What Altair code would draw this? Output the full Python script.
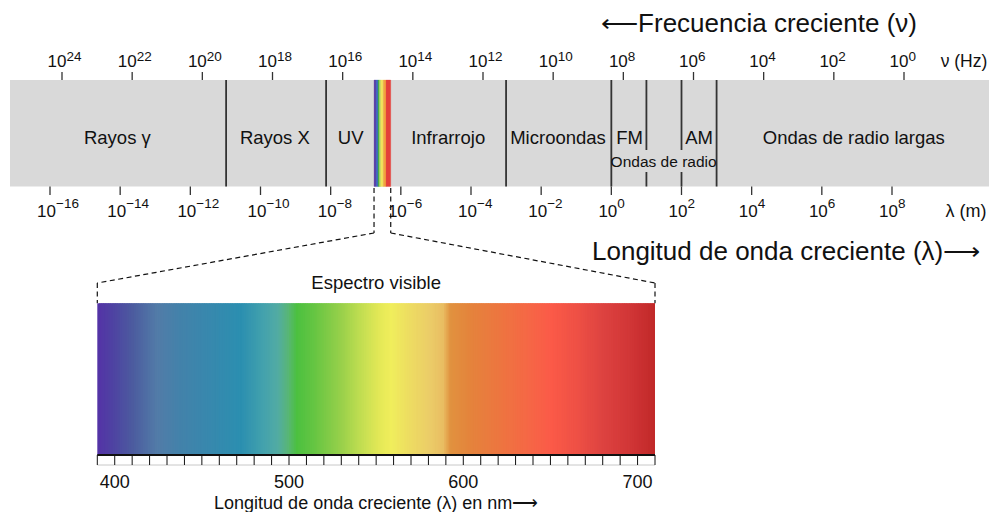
import altair as alt
import pandas as pd

FONT = "Liberation Sans"
W, H = 981, 504

# ---------------- data ----------------
freq_exponents = [24, 22, 20, 18, 16, 14, 12, 10, 8, 6, 4, 2, 0]
wave_exponents = [-16, -14, -12, -10, -8, -6, -4, -2, 0, 2, 4, 6, 8]

band_edges = [-17.14, 10.77]                 # log10(wavelength, m)
full_dividers = [-10.98, -8.13, -3.0, 0.0, 3.0]
split_dividers = [1.0, 2.0]

region_names = ["Rayos γ", "Rayos X", "UV", "Infrarrojo", "Microondas", "FM", "AM",
                "Ondas de radio largas"]
region_centers = [-14.08, -9.59, -7.43, -4.65, -1.52, 0.52, 2.50, 6.91]
radio_name = ["Ondas de radio"]
radio_center = [1.49]

strip_edges = [-6.764, -6.707, -6.650, -6.613, -6.573, -6.499, -6.422, -6.288]
strip_colors = ["#5b3ea6", "#4063c0", "#3faa48", "#a5cf50", "#f2e45c", "#f2a43e", "#e4403a"]

visible_range = [390, 710]
stop_nm = [390, 399, 410, 424, 437, 456, 472, 485, 493, 499, 504, 514, 529, 542, 552,
           558, 569, 581, 588, 592, 603, 622, 638, 650, 665, 680, 696, 710]
stop_color = ["#5433a6", "#4e44a2", "#4c5c9f", "#527ca8", "#4382aa", "#3689ae", "#2b8fb0",
              "#44a2ad", "#52aba3", "#58b676", "#4cc040", "#66c543", "#97d04a", "#c6df52",
              "#e5e957", "#f0ee5c", "#eddc62", "#ebcb68", "#e9bd62", "#e1923f", "#e4843c",
              "#ee7440", "#f66646", "#fb5a48", "#ee5045", "#dd4240", "#d03536", "#c02828"]
nm_ticks = list(range(390, 711, 10))
nm_labels = [400, 500, 600, 700]

# ---------------- scales ----------------
L_DOM, L_RNG = [-16, 8], [42, 884]
F_DOM, F_RNG = [24, 0], [54, 896]
NM_DOM, NM_RNG = [390, 710], [89.3, 647.0]


def xs(field, dom, rng):
    return alt.X(f"{field}:Q", scale=alt.Scale(domain=dom, range=rng, zero=False, nice=False),
                 axis=None)


def XL(f):
    return xs(f, L_DOM, L_RNG)


def XF(f):
    return xs(f, F_DOM, F_RNG)


def XN(f):
    return xs(f, NM_DOM, NM_RNG)


def nm_to_L(nm):
    px = NM_RNG[0] + (nm - NM_DOM[0]) * (NM_RNG[1] - NM_RNG[0]) / (NM_DOM[1] - NM_DOM[0])
    return L_DOM[0] + (px - L_RNG[0]) * (L_DOM[1] - L_DOM[0]) / (L_RNG[1] - L_RNG[0])


def sup(e):
    return str(e).replace("-", "\u2212")


V = alt.value
layers = []

# band
band = pd.DataFrame({"a": [band_edges[0]], "b": [band_edges[1]]})
layers.append(alt.Chart(band).mark_rect(color="#d9d9d9").encode(
    x=XL("a"), x2="b", y=V(72), y2=V(178.5)))

# rainbow strip
strip = pd.DataFrame({"a": strip_edges[:-1], "b": strip_edges[1:], "c": strip_colors})
layers.append(alt.Chart(strip).mark_rect(strokeWidth=0.3).encode(
    x=XL("a"), x2="b", y=V(72), y2=V(178.5),
    fill=alt.Fill("c:N", scale=None), stroke=alt.Stroke("c:N", scale=None)))

# dividers
layers.append(alt.Chart(pd.DataFrame({"v": full_dividers})).mark_rule(
    color="#333333", strokeWidth=1.8).encode(x=XL("v"), y=V(72), y2=V(178.5)))
sd = pd.DataFrame({"v": split_dividers})
layers.append(alt.Chart(sd).mark_rule(color="#333333", strokeWidth=1.8).encode(
    x=XL("v"), y=V(72), y2=V(142)))
layers.append(alt.Chart(sd).mark_rule(color="#333333", strokeWidth=1.8).encode(
    x=XL("v"), y=V(164), y2=V(178.5)))

# ticks
fq = pd.DataFrame({"e": freq_exponents, "b": ["10"] * len(freq_exponents),
                   "s": [sup(e) for e in freq_exponents]})
wv = pd.DataFrame({"e": wave_exponents, "b": ["10"] * len(wave_exponents),
                   "s": [sup(e) for e in wave_exponents]})
layers.append(alt.Chart(fq).mark_rule(color="#333333", strokeWidth=1.3).encode(
    x=XF("e"), y=V(64), y2=V(72)))
layers.append(alt.Chart(wv).mark_rule(color="#333333", strokeWidth=1.3).encode(
    x=XL("e"), y=V(178.5), y2=V(187)))

layers.append(alt.Chart(fq).mark_text(font=FONT, fontSize=17, align="right", dx=4.5,
                                      baseline="alphabetic", color="#111").encode(
    x=XF("e"), y=V(58.7), text="b:N"))
layers.append(alt.Chart(fq).mark_text(font=FONT, fontSize=13.5, align="left", dx=4.5,
                                      baseline="alphabetic", color="#111").encode(
    x=XF("e"), y=V(52.5), text="s:N"))
layers.append(alt.Chart(wv).mark_text(font=FONT, fontSize=17, align="right", dx=6,
                                      baseline="alphabetic", color="#111").encode(
    x=XL("e"), y=V(208.7), text="b:N"))
layers.append(alt.Chart(wv).mark_text(font=FONT, fontSize=13.5, align="left", dx=6,
                                      baseline="alphabetic", color="#111").encode(
    x=XL("e"), y=V(200.3), text="s:N"))

# region labels
rg = pd.DataFrame({"x": region_centers, "t": region_names})
layers.append(alt.Chart(rg).mark_text(font=FONT, fontSize=18.5, baseline="alphabetic",
                                      color="#111").encode(x=XL("x"), y=V(135.5), text="t:N"))
layers.append(alt.Chart(pd.DataFrame({"x": radio_center, "t": radio_name})).mark_text(
    font=FONT, fontSize=15.5, baseline="alphabetic", color="#111").encode(
    x=XL("x"), y=V(158.7), text="t:N"))

# headers and units
def label(txt, x, y, size, align="center"):
    return alt.Chart(pd.DataFrame({"t": [txt]})).mark_text(
        font=FONT, fontSize=size, align=align, baseline="alphabetic", color="#111").encode(
        x=V(x), y=V(y), text="t:N")

layers.append(label("\u27f5Frecuencia creciente (ν)", 909, 23.7, 26, "right"))
layers.append(label("Longitud de onda creciente (λ)\u27f6", 584, 252, 26, "left"))
layers.append(label("ν (Hz)", 956, 58.7, 17.5))
layers.append(label("λ (m)", 958, 208.7, 18))

# dashed connectors
strip_ends = [strip_edges[0], strip_edges[-1]]
conn = pd.DataFrame({"top": strip_ends, "bot": [nm_to_L(visible_range[0]), nm_to_L(visible_range[1])],
                     "nm": visible_range})
dash = dict(color="#111", strokeWidth=1.2, strokeDash=[5, 3.5])
layers.append(alt.Chart(conn).mark_rule(**dash).encode(x=XL("top"), y=V(180), y2=V(225)))
layers.append(alt.Chart(conn).mark_rule(**dash).encode(
    x=XL("top"), x2="bot", y=V(225), y2=V(275)))
layers.append(alt.Chart(conn).mark_rule(**dash).encode(x=XN("nm"), y=V(275), y2=V(295.3)))

# visible spectrum gradient (overlapping 1-nm slices to avoid seams)
grad = pd.DataFrame({"nm": list(range(visible_range[0], visible_range[1]))})
grad["nm2"] = (grad["nm"] + 2).clip(upper=visible_range[1])
cscale = alt.Scale(domain=stop_nm, range=stop_color, interpolate="rgb")
layers.append(alt.Chart(grad).mark_rect().encode(
    x=XN("nm"), x2="nm2", y=V(295.3), y2=V(447),
    fill=alt.Fill("nm:Q", scale=cscale, legend=None)))

# nm tick row
vr = pd.DataFrame({"a": [visible_range[0]], "b": [visible_range[1]]})
layers.append(alt.Chart(vr).mark_rule(color="#c8c8c8", strokeWidth=1).encode(
    x=XN("a"), x2="b", y=V(457)))
layers.append(alt.Chart(pd.DataFrame({"v": nm_ticks})).mark_rule(color="#111", strokeWidth=1).encode(
    x=XN("v"), y=V(447), y2=V(457)))
layers.append(alt.Chart(vr).mark_rule(color="#111", strokeWidth=1.8).encode(
    x=XN("a"), x2="b", y=V(447)))
layers.append(alt.Chart(pd.DataFrame({"v": nm_labels})).mark_text(
    font=FONT, fontSize=18, baseline="alphabetic", color="#111").encode(
    x=XN("v"), y=V(479.5), text="v:N"))
mid = pd.DataFrame({"x": [550], "a": ["Espectro visible"],
                    "b": ["Longitud de onda creciente (λ) en nm\u27f6"]})
layers.append(alt.Chart(mid).mark_text(font=FONT, fontSize=18.5, baseline="alphabetic",
                                       color="#111").encode(x=XN("x"), y=V(281), text="a:N"))
layers.append(alt.Chart(mid).mark_text(font=FONT, fontSize=18, baseline="alphabetic",
                                       color="#111").encode(x=XN("x"), y=V(501), text="b:N"))

chart = alt.layer(*layers).resolve_scale(
    x="independent", fill="independent", stroke="independent"
).properties(width=W, height=H, autosize=alt.AutoSizeParams(type="none"),
             padding=0, background="white").configure_view(stroke=None)

chart.save("out.html", embed_options={"renderer": "svg", "actions": False})
